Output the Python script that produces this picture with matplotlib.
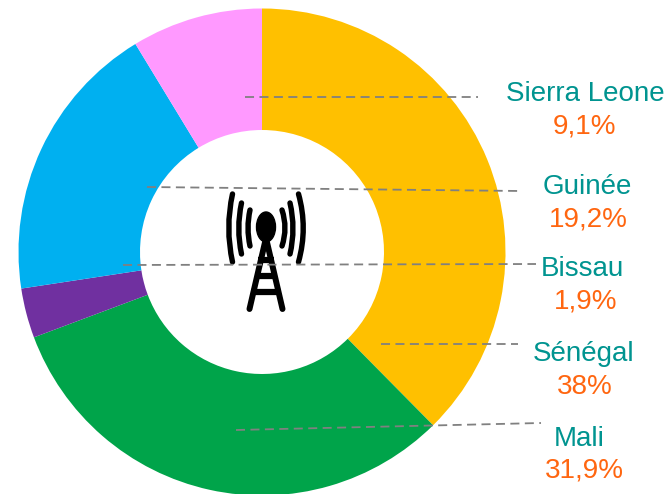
"""Donut chart of shares by country, with leader lines and a mast icon."""
import matplotlib
matplotlib.use('Agg')
import matplotlib.pyplot as plt
from matplotlib.patches import Ellipse, PathPatch
from matplotlib.path import Path

plt.rcParams['font.family'] = ['Liberation Sans', 'DejaVu Sans']

countries = ["Sénégal", "Mali", "Bissau", "Guinée", "Sierra Leone"]
percent_labels = ["38%", "31,9%", "1,9%", "19,2%", "9,1%"]
# slice sizes as drawn, the printed labels do not quite match them
drawn_shares = [37.6, 31.7, 3.3, 18.7, 8.7]
colors = ["#FFC000", "#00A44A", "#7030A0", "#00B0F0", "#FF99FF"]

name_pos = [(584, 354), (579, 439), (582, 269), (587, 187), (585, 94)]
pct_pos = [(585, 387), (584, 470), (586, 301), (588, 219), (584, 126)]
leaders = [
    ((381, 344), (518, 344)),
    ((236, 430), (541, 423)),
    ((123, 265), (536, 264)),
    ((147, 187), (521, 191)),
    ((245, 97), (478, 97)),
]

fig = plt.figure(figsize=(6.7, 4.94), dpi=100)
ax = fig.add_axes([0, 0, 1, 1])

# axis runs in image pixels with y downwards, so -90 is the top of the pie
ax.pie(drawn_shares, colors=colors, center=(262, 252), radius=243.5,
       startangle=-90, counterclock=True,
       wedgeprops={"width": 121.5, "linewidth": 0})
ax.set_xlim(0, 670)
ax.set_ylim(494, 0)
ax.axis('off')

# mast icon
ax.add_patch(Ellipse((266, 227), 19, 30, color='black', zorder=3))
for x_end, x_ctrl, y0, y1 in [
    (232.5, 225, 194, 262), (241.5, 236, 203, 254), (250, 246, 210, 246),
    (298.5, 308, 194, 262), (290, 296, 203, 254), (282, 288, 210, 246),
]:
    arc = Path([(x_end, y0), (x_ctrl, (y0 + y1) / 2), (x_end, y1)],
               [Path.MOVETO, Path.CURVE3, Path.CURVE3])
    ax.add_patch(PathPatch(arc, fill=False, lw=3.9, color='black',
                           capstyle='round', zorder=3))
ax.plot([266, 249.5], [238, 309], color='black', lw=4.3,
        solid_capstyle='round', zorder=3)
ax.plot([266, 282.5], [238, 309], color='black', lw=4.3,
        solid_capstyle='round', zorder=3)
for y, half in [(260, 8), (276, 11), (292, 15)]:
    ax.plot([266 - half, 266 + half], [y, y], color='black', lw=4.5,
            solid_capstyle='butt', zorder=3)

for (x0, y0), (x1, y1) in leaders:
    ax.plot([x0, x1], [y0, y1], color='#808080', lw=1.3,
            dashes=(5, 3), zorder=4)

for name, pct, n_xy, p_xy in zip(countries, percent_labels, name_pos, pct_pos):
    ax.text(*n_xy, name, color='#009490', fontsize=20,
            ha='center', va='center')
    ax.text(*p_xy, pct, color='#FF6610', fontsize=20,
            ha='center', va='center')

fig.savefig('out.png', dpi=100)
